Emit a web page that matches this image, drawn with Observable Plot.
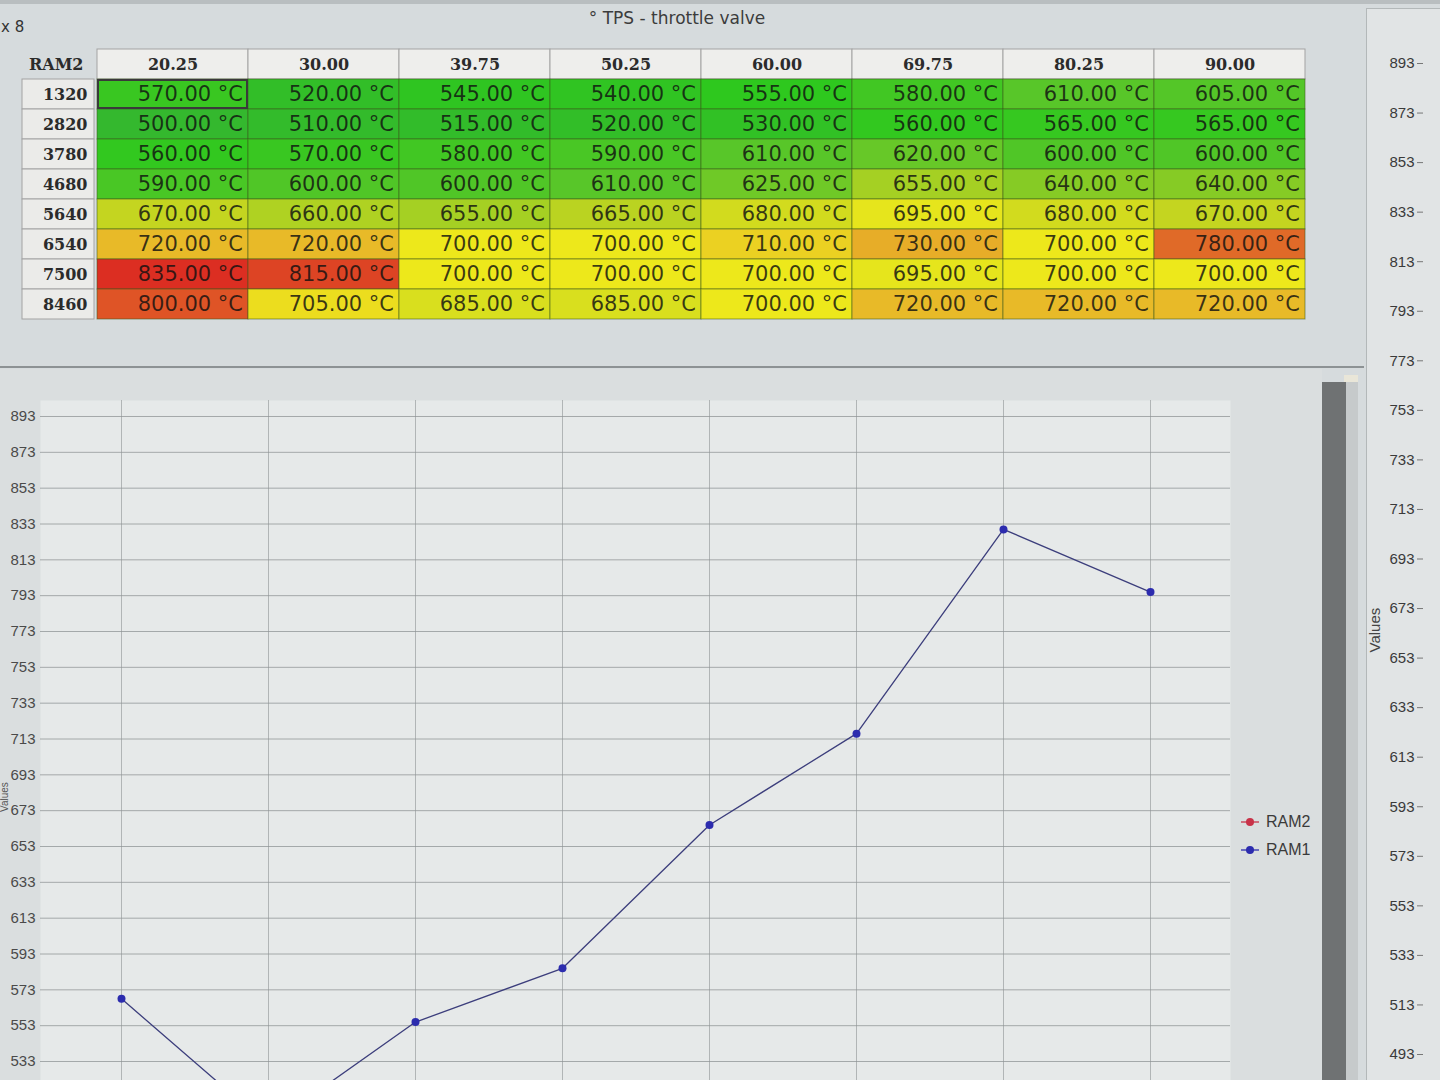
<!DOCTYPE html>
<html>
<head>
<meta charset="utf-8">
<script src="https://cdn.jsdelivr.net/npm/d3@7"></script>
<script src="https://cdn.jsdelivr.net/npm/@observablehq/plot@0.6"></script>
<style>
html,body{margin:0;padding:0;width:1440px;height:1080px;overflow:hidden;background:#d6dbdd;font-family:"DejaVu Sans",sans-serif;}
.abs{position:absolute;}
svg{overflow:visible;}
</style>
</head>
<body>
<div class="abs" style="left:0;top:0;width:1440px;height:4px;background:#b9bec0"></div>
<div class="abs" style="left:0;width:1354px;top:8px;text-align:center;font-size:17px;color:#3c3c3c">° TPS - throttle valve</div>
<div class="abs" style="left:1px;top:18px;font-size:15px;color:#333">x 8</div>
<div id="rowlab" class="abs" style="left:22px;top:46px"></div>
<div id="grid" class="abs" style="left:94px;top:46px"></div>
<div class="abs" style="left:0;top:366px;width:1364px;height:2px;background:#8d9294"></div>
<div class="abs" style="left:0;top:369px;width:1322px;height:711px;background:#dadedf"></div>
<div id="chart" class="abs" style="left:0;top:375px"></div>
<div class="abs" style="left:0;top:812px;font-size:10px;line-height:10px;color:#555;transform:rotate(-90deg);transform-origin:left top;font-family:'Liberation Sans',sans-serif">Values</div>
<div class="abs" style="left:1322px;top:382px;width:24px;height:698px;background:#6f7273"></div>
<div class="abs" style="left:1346px;top:376px;width:12px;height:704px;background:#c6cacb"></div>
<div class="abs" style="left:1344px;top:375px;width:14px;height:7px;background:#e9e6d8"></div>
<div id="legend" class="abs" style="left:1240px;top:808px;font-family:'Liberation Sans',sans-serif;font-size:16px;color:#3a3a3a"></div>
<div class="abs" style="left:1366px;top:8px;width:74px;height:1072px;background:#e1e4e5;border-left:1px solid #b3b8b9;border-top:1px solid #b3b8b9"></div>
<div id="raxis" class="abs" style="left:1366px;top:0"></div>
<script>
// ---- data ----
const tps = ["20.25","30.00","39.75","50.25","60.00","69.75","80.25","90.00"];
const rpm = ["1320","2820","3780","4680","5640","6540","7500","8460"];
const row1320 = [570,520,545,540,555,580,610,605];
const row2820 = [500,510,515,520,530,560,565,565];
const row3780 = [560,570,580,590,610,620,600,600];
const row4680 = [590,600,600,610,625,655,640,640];
const row5640 = [670,660,655,665,680,695,680,670];
const row6540 = [720,720,700,700,710,730,700,780];
const row7500 = [835,815,700,700,700,695,700,700];
const row8460 = [800,705,685,685,700,720,720,720];
const ram1 = [568,497,555,585,665,716,830,795];
const leftTicks = [533,553,573,593,613,633,653,673,693,713,733,753,773,793,813,833,853,873,893];
const rightTicks = [493,513,533,553,573,593,613,633,653,673,693,713,733,753,773,793,813,833,853,873,893];
const legendNames = ["RAM2","RAM1"];
const legendColors = ["#c83248","#2c2cae"];

const rows = [row1320,row2820,row3780,row4680,row5640,row6540,row7500,row8460];
const cells = rpm.flatMap((r,i)=>tps.map((t,j)=>({rpm:r,tps:t,v:rows[i][j]})));
const yDom = ["hdr", ...rpm];

// ---- table ----
const grid = Plot.plot({
  width:1214, height:275, margin:0,
  x:{domain:tps, axis:null, padding:0},
  y:{domain:yDom, axis:null, padding:0},
  color:{type:"linear",
    domain:[500,555,610,640,670,700,720,780,835],
    range:["#34b82e","#2ec81e","#58c629","#86cb25","#c4d520","#ede81b","#e8ba28","#e06a28","#dc2e22"]},
  marks:[
    Plot.cell(tps,{x:d=>d, y:()=>"hdr", fill:"#eeeeec", stroke:"#a3a3a3"}),
    Plot.text(tps,{x:d=>d, y:()=>"hdr", text:d=>d, fontFamily:"DejaVu Serif", fontWeight:"bold", fontSize:16, fill:"#2b2b2b"}),
    Plot.cell(cells,{x:"tps", y:"rpm", fill:"v", stroke:"#3d5a1c", strokeOpacity:0.55}),
    Plot.text(cells,{x:"tps", y:"rpm", text:d=>d.v.toFixed(2)+" °C", textAnchor:"end", dx:70, fontFamily:"DejaVu Sans", fontSize:21, fill:"#111", fillOpacity:0.82}),
    Plot.cell(cells.slice(0,1),{x:"tps", y:"rpm", fill:"none", stroke:"#3a3a3a", strokeWidth:2, inset:1})
  ]
});
document.getElementById("grid").appendChild(grid);

const rowlab = Plot.plot({
  width:72, height:275, margin:0,
  x:{domain:["lab"], axis:null, padding:0},
  y:{domain:yDom, axis:null, padding:0},
  marks:[
    Plot.cell(rpm,{x:()=>"lab", y:d=>d, fill:"#ebebe9", stroke:"#a3a3a3"}),
    Plot.text(rpm,{x:()=>"lab", y:d=>d, text:d=>d, textAnchor:"end", dx:29, fontFamily:"DejaVu Serif", fontWeight:"bold", fontSize:16, fill:"#2b2b2b"}),
    Plot.text(["RAM2"],{x:()=>"lab", y:()=>"hdr", text:d=>d, textAnchor:"end", dx:25, fontFamily:"DejaVu Serif", fontWeight:"bold", fontSize:16, fill:"#2b2b2b"})
  ]
});
document.getElementById("rowlab").appendChild(rowlab);

// ---- line chart ----
const series = tps.map((t,i)=>({tps:t, v:ram1[i]}));
const chart = Plot.plot({
  width:1322, height:705,
  marginLeft:40, marginRight:92, marginTop:25, marginBottom:0,
  style:{background:"transparent", fontFamily:"Liberation Sans"},
  x:{type:"point", domain:tps, padding:0.535, axis:null},
  y:{domain:[522.4,901.93], axis:null},
  marks:[
    Plot.frame({fill:"#e6e9e9", stroke:"none"}),
    Plot.gridY(leftTicks,{stroke:"#8d9394", strokeOpacity:0.75}),
    Plot.gridX(tps,{stroke:"#8d9394", strokeOpacity:0.6}),
    Plot.axisY(leftTicks,{anchor:"left", tickSize:0, tickPadding:5, fontSize:15, fill:"#4a4a4a", label:null}),
    Plot.line(series,{x:"tps", y:"v", stroke:"#3c3e7c", strokeWidth:1.3, clip:true}),
    Plot.dot(series,{x:"tps", y:"v", r:4, fill:"#2c2cae", stroke:"none", clip:true})
  ]
});
document.getElementById("chart").appendChild(chart);

// ---- legend ----
const leg = document.getElementById("legend");
legendNames.forEach((n,i)=>{
  const row = document.createElement("div");
  row.style.cssText = "display:flex;align-items:center;height:28px;";
  row.innerHTML = `<svg width="20" height="12" style="margin-right:6px"><line x1="1" y1="6" x2="19" y2="6" stroke="${legendColors[i]}" stroke-width="1.3"/><circle cx="10" cy="6" r="4" fill="${legendColors[i]}"/></svg><span>${n}</span>`;
  leg.appendChild(row);
});

// ---- right axis ----
const raxis = Plot.plot({
  width:74, height:1080,
  marginLeft:57, marginRight:17, marginTop:0, marginBottom:0,
  style:{background:"transparent", fontFamily:"Liberation Sans"},
  y:{domain:[493,893], range:[1054,63], axis:null},
  marks:[
    Plot.axisY(rightTicks,{anchor:"left", tickSize:6, tickPadding:3, fontSize:15, fill:"#3a3a3a", stroke:"#777", label:null}),
    Plot.text(["Values"],{frameAnchor:"left", text:d=>d, rotate:-90, dx:-48, dy:112, fontSize:15, fill:"#444"})
  ]
});
document.getElementById("raxis").appendChild(raxis);
</script>
</body>
</html>
